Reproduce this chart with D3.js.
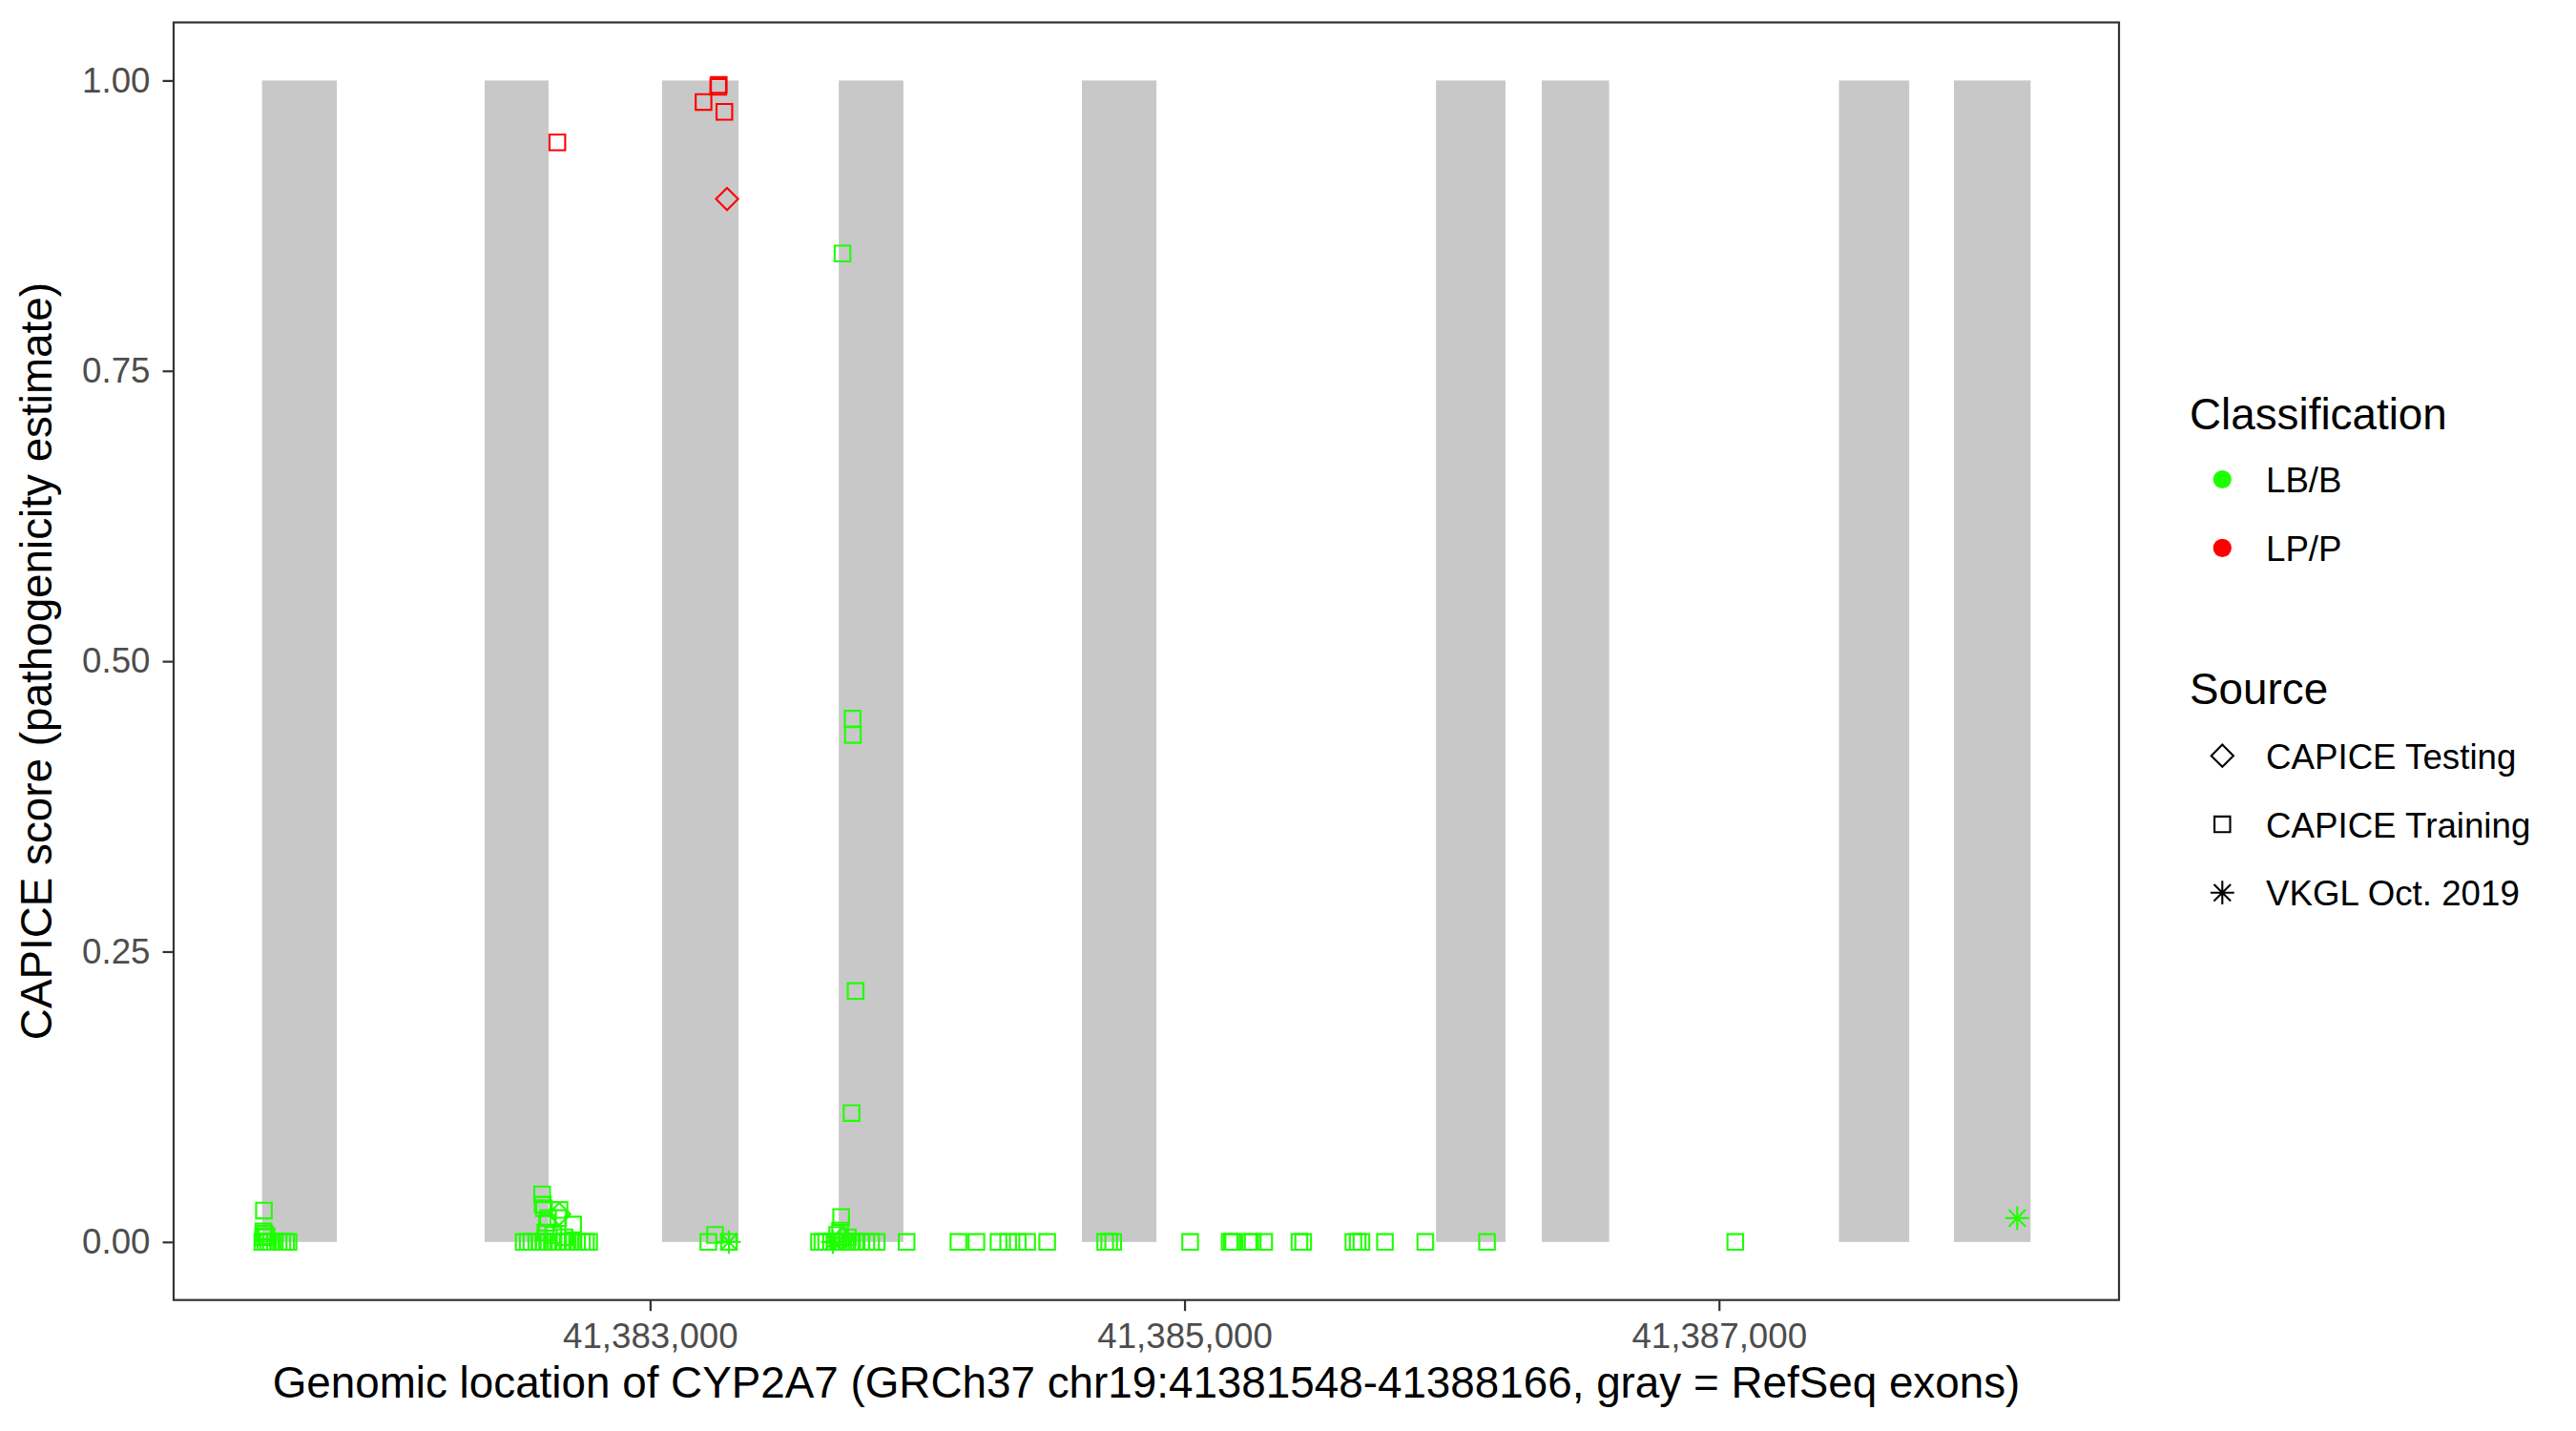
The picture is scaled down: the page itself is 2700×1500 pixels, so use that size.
<!DOCTYPE html>
<html>
<head>
<meta charset="utf-8">
<script src="https://cdn.jsdelivr.net/npm/d3@7"></script>
<style>
  body { margin: 0; background: #fff; }
  text { font-family: "Liberation Sans", Arial, sans-serif; }
</style>
</head>
<body>
<svg id="chart"></svg>
<script>
// gene range and exons (GRCh37)
const geneRange = [41381548, 41388166];
const exonStarts = [41381548, 41382381, 41383045, 41383706, 41384616, 41385941, 41386337, 41387449, 41387879];
const exonEnds   = [41381828, 41382620, 41383331, 41383948, 41384895, 41386201, 41386589, 41387712, 41388166];

const xTicks = [41383000, 41385000, 41387000];
const yTicks = [0, 0.25, 0.5, 0.75, 1];

const classes = ["LB/B", "LP/P"];
const sources = ["CAPICE Testing", "CAPICE Training", "VKGL Oct. 2019"];

// [position, score]
const lbTraining = [
  [41381549, 0], [41381552, 0.004], [41381553, 0.009], [41381555, 0.027], [41381558, 0.007],
  [41381560, 0], [41381565, 0.005], [41381571, 0], [41381581, 0], [41381596, 0],
  [41381610, 0], [41381624, 0], [41381638, 0], [41381647, 0],
  [41382527, 0], [41382542, 0], [41382556, 0], [41382574, 0], [41382588, 0],
  [41382596, 0.041], [41382598, 0.032], [41382603, 0.029], [41382603, 0], [41382608, 0.008],
  [41382614, 0.0165], [41382618, 0.0205], [41382620, 0], [41382638, 0], [41382638, 0.006],
  [41382656, 0.0205], [41382656, 0], [41382661, 0.0275], [41382674, 0], [41382680, 0.004],
  [41382692, 0], [41382710, 0], [41382712, 0.015], [41382727, 0], [41382745, 0],
  [41382760, 0], [41382772, 0],
  [41383218, 0], [41383243, 0.006], [41383295, 0],
  [41383632, 0], [41383645, 0], [41383659, 0], [41383677, 0], [41383691, 0],
  [41383700, 0.006], [41383706, 0], [41383711, 0.0097], [41383715, 0.0214], [41383720, 0.851],
  [41383723, 0], [41383738, 0], [41383740, 0.004], [41383754, 0.111], [41383756, 0],
  [41383758, 0.4505], [41383759, 0.4365], [41383769, 0.216], [41383773, 0], [41383791, 0],
  [41383809, 0], [41383827, 0], [41383848, 0], [41383960, 0],
  [41384154, 0], [41384221, 0], [41384304, 0], [41384340, 0], [41384376, 0],
  [41384411, 0], [41384486, 0], [41384703, 0], [41384718, 0], [41384733, 0],
  [41385021, 0], [41385169, 0], [41385177, 0], [41385182, 0], [41385246, 0],
  [41385255, 0], [41385298, 0], [41385430, 0], [41385444, 0], [41385632, 0],
  [41385648, 0], [41385662, 0], [41385750, 0], [41385901, 0], [41386132, 0],
  [41387061, 0]
];
const lbTesting = [[41382660, 0.024], [41383720, 0.003]];
const lbVkgl = [[41383295, 0], [41383684, 0], [41388116, 0.0205]];
const lpTraining = [[41382653, 0.9467], [41383200, 0.9815], [41383255, 0.9945], [41383257, 0.9961], [41383278, 0.973]];
const lpTesting = [[41383288, 0.898]];

const colors = { "LB/B": "#1eff00", "LP/P": "#ff0000" };

const W = 2700, H = 1500;
const panel = { left: 182, right: 2221, top: 23.5, bottom: 1362.7 };

const svg = d3.select("#chart").attr("width", W).attr("height", H);
svg.append("rect").attr("width", W).attr("height", H).attr("fill", "#fff");

const xPad = (geneRange[1] - geneRange[0]) * 0.05;
const x = d3.scaleLinear()
  .domain([geneRange[0] - xPad, geneRange[1] + xPad])
  .range([panel.left, panel.right]);
const y = d3.scaleLinear()
  .domain([-0.05, 1.05])
  .range([panel.bottom, panel.top]);

// exons
svg.append("g").selectAll("rect")
  .data(exonStarts.map((s, i) => [s, exonEnds[i]]))
  .join("rect")
  .attr("x", d => x(d[0]))
  .attr("width", d => x(d[1]) - x(d[0]))
  .attr("y", y(1))
  .attr("height", y(0) - y(1))
  .attr("fill", "#c8c8c8");

const shapes = {
  "CAPICE Training": "M-8.2,-8.2h16.4v16.4h-16.4Z",
  "CAPICE Testing": "M0,-11.6L11.6,0L0,11.6L-11.6,0Z",
  "VKGL Oct. 2019": "M0,-12.4V12.4M-12.4,0H12.4M-8.8,-8.8L8.8,8.8M-8.8,8.8L8.8,-8.8"
};

function drawPoints(data, cls, src) {
  svg.append("g").selectAll("path")
    .data(data)
    .join("path")
    .attr("transform", d => `translate(${x(d[0])},${y(d[1])})`)
    .attr("d", shapes[src])
    .attr("fill", "none")
    .attr("stroke", colors[cls])
    .attr("stroke-width", 2.1);
}
drawPoints(lbTraining, "LB/B", "CAPICE Training");
drawPoints(lbTesting, "LB/B", "CAPICE Testing");
drawPoints(lbVkgl, "LB/B", "VKGL Oct. 2019");
drawPoints(lpTraining, "LP/P", "CAPICE Training");
drawPoints(lpTesting, "LP/P", "CAPICE Testing");

// panel border
svg.append("rect")
  .attr("x", panel.left).attr("y", panel.top)
  .attr("width", panel.right - panel.left)
  .attr("height", panel.bottom - panel.top)
  .attr("fill", "none").attr("stroke", "#333").attr("stroke-width", 2.2);

// axes
const xAxis = svg.append("g")
  .attr("transform", `translate(0,${panel.bottom})`)
  .call(d3.axisBottom(x).tickValues(xTicks).tickFormat(d3.format(",")).tickSize(11.5).tickPadding(13));
const yAxis = svg.append("g")
  .attr("transform", `translate(${panel.left},0)`)
  .call(d3.axisLeft(y).tickValues(yTicks).tickFormat(d3.format(".2f")).tickSize(11.5).tickPadding(13));

[xAxis, yAxis].forEach(g => {
  g.select(".domain").remove();
  g.selectAll(".tick line").attr("stroke", "#333").attr("stroke-width", 2.2);
  g.selectAll(".tick text")
    .attr("fill", "#4d4d4d")
    .style("font-size", "36.7px")
    .style("font-family", '"Liberation Sans", Arial, sans-serif');
});

// axis titles
svg.append("text")
  .attr("x", (panel.left + panel.right) / 2).attr("y", 1465)
  .attr("text-anchor", "middle")
  .style("font-size", "45.8px")
  .text("Genomic location of CYP2A7 (GRCh37 chr19:41381548-41388166, gray = RefSeq exons)");

svg.append("text")
  .attr("transform", `translate(53.5,${(panel.top + panel.bottom) / 2}) rotate(-90)`)
  .attr("text-anchor", "middle")
  .style("font-size", "45.8px")
  .text("CAPICE score (pathogenicity estimate)");

// legends
const legX = 2295, keyX = 2329.3, labX = 2375;
svg.append("text").attr("x", legX).attr("y", 449.7)
  .style("font-size", "45.8px").text("Classification");
const clsY = [502.5, 574.4];
classes.forEach((c, i) => {
  svg.append("circle").attr("cx", keyX).attr("cy", clsY[i]).attr("r", 9.6).attr("fill", colors[c]);
  svg.append("text").attr("x", labX).attr("y", clsY[i] + 13.4)
    .style("font-size", "36.7px").text(c);
});

svg.append("text").attr("x", legX).attr("y", 737.8)
  .style("font-size", "45.8px").text("Source");
const srcY = [792.2, 864.1, 935.7];
sources.forEach((s, i) => {
  svg.append("path").attr("transform", `translate(${keyX},${srcY[i]})`)
    .attr("d", shapes[s]).attr("fill", "none").attr("stroke", "#000").attr("stroke-width", 2.1);
  svg.append("text").attr("x", labX).attr("y", srcY[i] + 13.4)
    .style("font-size", "36.7px").text(s);
});
</script>
</body>
</html>
